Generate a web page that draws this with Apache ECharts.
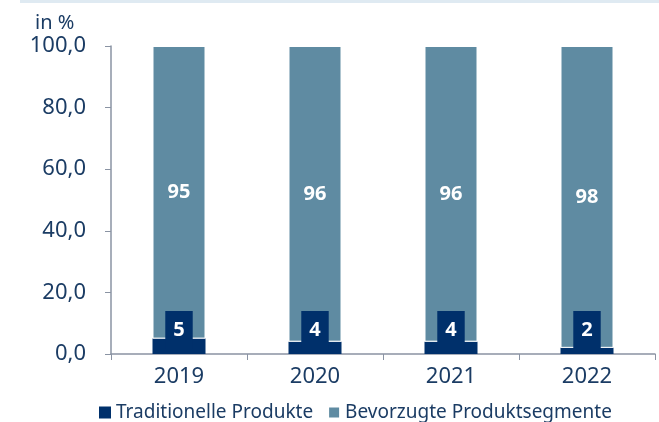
<!DOCTYPE html>
<html>
<head>
<meta charset="utf-8">
<script src="https://cdn.jsdelivr.net/npm/echarts@6/dist/echarts.min.js"></script>
<style>
  html, body { margin: 0; padding: 0; background: #fff; }
  #chart { width: 659px; height: 422px; }
</style>
</head>
<body>
<div id="chart"></div>
<script>
var years = ['2019', '2020', '2021', '2022'];
var traditionell = [5, 4, 4, 2];
var bevorzugt = [95, 96, 96, 98];
var seriesNames = ['Traditionelle Produkte', 'Bevorzugte Produktsegmente'];

var navy = '#00306b';
var steel = '#5f8ba2';
var textColor = '#1b3c64';
var axisColor = '#8a93a3';
var font = 'Noto Sans';

var chart = echarts.init(document.getElementById('chart'));

var option = {
	animation: false,
	textStyle: { fontFamily: font },
	grid: { left: 111, right: 4, top: 46, bottom: 68 },
	graphic: [
		{ type: 'rect', left: 20, top: 0, shape: { width: 639, height: 3 }, style: { fill: '#dfeaf2' } },
		{ type: 'text', left: 35, top: 13, style: { text: 'in %', fontSize: 20, fill: textColor, fontFamily: font } }
	],
	legend: {
		top: 398,
		left: 94,
		itemWidth: 12,
		itemHeight: 12,
		itemGap: 14,
		icon: 'rect',
		textStyle: { fontSize: 19, color: textColor, fontFamily: font },
		data: seriesNames
	},
	xAxis: {
		type: 'category',
		data: years,
		axisLine: { lineStyle: { color: axisColor, width: 1.5 } },
		axisTick: { show: true, length: 6, lineStyle: { color: axisColor } },
		axisLabel: { fontSize: 22, color: textColor, margin: 12 }
	},
	yAxis: {
		type: 'value',
		min: 0,
		max: 100,
		interval: 20,
		splitLine: { show: false },
		axisLine: { show: true, lineStyle: { color: axisColor, width: 1.5 } },
		axisTick: { show: true, length: 6, lineStyle: { color: axisColor } },
		axisLabel: {
			fontSize: 22,
			color: textColor,
			margin: 25,
			formatter: function(v) { return v.toFixed(1).replace('.', ','); }
		}
	},
	series: [
		{
			name: seriesNames[0],
			type: 'bar',
			stack: 'total',
			barWidth: 53,
			data: traditionell,
			itemStyle: { color: navy },
			label: {
				show: true,
				position: 'insideBottom',
				distance: 5,
				color: '#fff',
				fontSize: 20,
				fontWeight: 'bold',
				backgroundColor: navy,
				padding: [9, 8, 9, 8]
			}
		},
		{
			name: seriesNames[1],
			type: 'bar',
			stack: 'total',
			data: bevorzugt,
			itemStyle: { color: steel, borderColor: '#fff', borderWidth: 1 },
			label: {
				show: true,
				position: 'inside',
				color: '#fff',
				fontSize: 20,
				fontWeight: 'bold'
			}
		}
	]
};

chart.setOption(option);
</script>
</body>
</html>
